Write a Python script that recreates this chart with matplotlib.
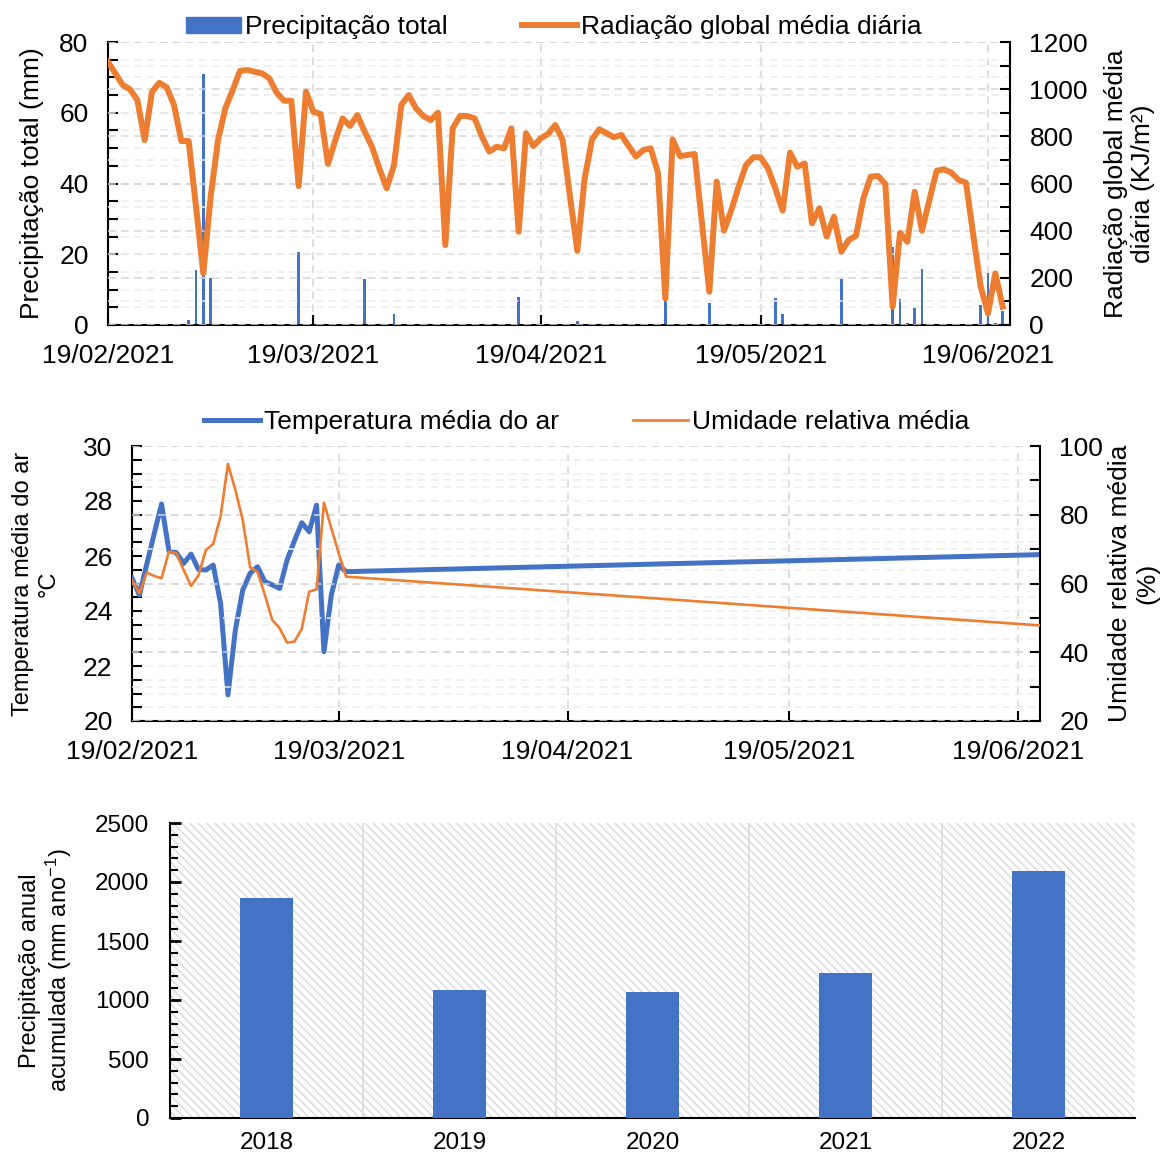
import matplotlib.pyplot as plt
import matplotlib.dates as mdates
import matplotlib.ticker as mticker
from matplotlib.patches import Patch, Rectangle
from matplotlib.lines import Line2D
import pandas as pd

plt.rcParams['font.family'] = 'Liberation Sans'
plt.rcParams['mathtext.fontset'] = 'custom'
plt.rcParams['mathtext.rm'] = 'Liberation Sans'
plt.rcParams['mathtext.it'] = 'Liberation Sans:italic'

BLUE = '#4472C4'
ORANGE = '#ED7D31'
GRID_DARK = '#d4d4d4'
GRID_LIGHT = '#ececec'
DASH = (0, (5, 3.5))

inicio = pd.Timestamp('2021-02-19')
fim = pd.Timestamp('2021-06-22')

# radiacao global media diaria (KJ/m2), um valor por dia a partir de 19/02/2021
radiacao = [1115, 1067, 1018, 999, 954, 784, 989, 1027, 1008, 933,
            780, 780, 502, 219, 544, 784, 919, 996, 1078, 1081,
            1074, 1067, 1046, 985, 951, 951, 589, 989, 904, 895,
            683, 784, 876, 844, 890, 820, 756, 664, 580, 678,
            933, 975, 919, 886, 869, 900, 339, 834, 886, 886,
            876, 798, 735, 756, 749, 834, 396, 813, 759, 791,
            810, 848, 784, 544, 315, 622, 787, 830, 813, 796,
            806, 759, 714, 742, 749, 646, 113, 787, 716, 721,
            725, 430, 141, 608, 400, 488, 587, 678, 711, 711,
            664, 579, 485, 731, 671, 685, 431, 495, 375, 459,
            311, 360, 378, 537, 629, 632, 598, 78, 391, 353,
            565, 400, 530, 654, 660, 646, 615, 603, 380, 163,
            49, 219, 78]

# dias com chuva (dias desde 19/02/2021) e precipitacao total (mm)
chuva_dia = [11, 12, 13, 14, 26, 35, 39, 56, 64, 76, 82, 91, 92, 100,
             107, 108, 109, 110, 111, 119, 120, 121, 122]
chuva_mm = [1.5, 15.5, 70.9, 13.4, 20.7, 13.0, 3.1, 8.0, 1.1, 8.0, 6.1, 7.7, 3.1, 12.9,
            22.1, 7.3, 0.5, 4.7, 15.7, 5.7, 14.8, 0.7, 4.0]

# temperatura e umidade medias (dias desde 19/02/2021)
clima_dia = list(range(30)) + [123]
temperatura = [25.2, 24.58, 25.7, 26.8, 27.89, 26.19, 26.12, 25.73, 26.07, 25.51,
               25.49, 25.67, 24.28, 20.95, 23.31, 24.76, 25.37, 25.61, 25.07, 24.95,
               24.82, 25.85, 26.55, 27.21, 26.88, 27.85, 22.52, 24.58, 25.67, 25.43,
               26.05]
umidade = [61.0, 57.1, 63.2, 62.2, 61.5, 69.3, 68.8, 63.9, 59.3, 62.3,
           69.7, 71.5, 79.6, 94.8, 87.2, 78.5, 64.7, 63.4, 56.7, 49.4,
           47.0, 42.8, 43.1, 46.8, 57.6, 58.3, 83.5, 76.1, 68.8, 62.0,
           47.8]

anos = ['2018', '2019', '2020', '2021', '2022']
precip_anual = [1865, 1085, 1070, 1228, 2095]

datas_rad = inicio + pd.to_timedelta(range(len(radiacao)), unit='D')
datas_chuva = inicio + pd.to_timedelta(chuva_dia, unit='D')
datas_clima = inicio + pd.to_timedelta(clima_dia, unit='D')

W, H = 1164, 1155
fig = plt.figure(figsize=(W / 100, H / 100), dpi=100)


def frame(l, t, r, b):
    return [l / W, 1 - b / H, (r - l) / W, (b - t) / H]


def date_axis(ax):
    ax.set_xlim(inicio, fim)
    ax.xaxis.set_major_locator(mdates.DayLocator(bymonthday=19))
    ax.xaxis.set_major_formatter(mdates.DateFormatter('%d/%m/%Y'))
    ax.tick_params(axis='x', direction='in', length=7, width=1.5, labelsize=19, pad=14)
    ax.grid(axis='x', which='major', color=GRID_DARK, linestyle=DASH, lw=1.1)


def style_spines(ax, visible):
    for side, sp in ax.spines.items():
        sp.set_visible(side in visible)
        sp.set_linewidth(1.5)
        sp.set_color('black')


# --- precipitacao e radiacao ---
ax1 = fig.add_axes(frame(108, 42, 1010, 325))
ax1.bar(datas_chuva, chuva_mm, width=0.4, color=BLUE, zorder=2)
ax1.set_ylim(0, 80)
ax1.yaxis.set_major_locator(mticker.MultipleLocator(20))
ax1.yaxis.set_minor_locator(mticker.MultipleLocator(5))
ax1.tick_params(axis='y', which='both', direction='in', length=7, width=1.5, labelsize=19, pad=14)
ax1.grid(axis='y', which='major', color=GRID_DARK, linestyle=DASH, lw=1.1)
ax1.grid(axis='y', which='minor', color=GRID_LIGHT, linestyle=DASH, lw=1.1)
date_axis(ax1)
ax1.set_ylabel('Precipitação total (mm)', fontsize=19)
ax1.yaxis.set_label_coords(-0.071, 0.5)
style_spines(ax1, ['left', 'bottom'])

ax2 = ax1.twinx()
ax2.plot(datas_rad, radiacao, color=ORANGE, lw=4.3, solid_joinstyle='round', zorder=3)
ax2.set_ylim(0, 1200)
ax2.yaxis.set_major_locator(mticker.MultipleLocator(200))
ax2.yaxis.set_minor_locator(mticker.MultipleLocator(100))
ax2.tick_params(axis='y', which='both', direction='in', length=7, width=1.5, labelsize=19, pad=14)
ax2.grid(axis='y', which='major', color=GRID_DARK, linestyle=DASH, lw=1.1)
ax2.grid(axis='y', which='minor', color=GRID_LIGHT, linestyle=DASH, lw=1.1)
ax2.set_ylabel('Radiação global média\ndiária (KJ/m²)', fontsize=19, linespacing=1.15)
ax2.yaxis.set_label_coords(1.104, 0.5)
style_spines(ax2, ['right'])

fig.legend([Patch(color=BLUE), Line2D([], [], color=ORANGE, lw=4.3)],
           ['Precipitação total', 'Radiação global média diária'],
           loc='center', bbox_to_anchor=(554 / W, 1 - 27 / H), ncol=2, frameon=False,
           fontsize=19, handlelength=2.1, handleheight=0.55, handletextpad=0.15,
           columnspacing=2.8)

# --- temperatura e umidade ---
ax3 = fig.add_axes(frame(132, 446, 1040, 721))
ax3.plot(datas_clima, temperatura, color=BLUE, lw=3.6, solid_joinstyle='round', zorder=3)
ax3.set_ylim(20, 30)
ax3.yaxis.set_major_locator(mticker.MultipleLocator(2))
ax3.yaxis.set_minor_locator(mticker.MultipleLocator(0.5))
ax3.tick_params(axis='y', which='both', direction='in', length=7, width=1.5, labelsize=19, pad=14)
ax3.grid(axis='y', which='both', color=GRID_LIGHT, linestyle=DASH, lw=1.1)
date_axis(ax3)
ax3.set_ylabel('Temperatura média do ar\n°C', fontsize=17, linespacing=1.2)
ax3.yaxis.set_label_coords(-0.08, 0.5)
style_spines(ax3, ['left', 'bottom'])

ax4 = ax3.twinx()
ax4.plot(datas_clima, umidade, color=ORANGE, lw=1.9, solid_joinstyle='round', zorder=3)
ax4.set_ylim(20, 100)
ax4.yaxis.set_major_locator(mticker.MultipleLocator(20))
ax4.yaxis.set_minor_locator(mticker.MultipleLocator(10))
ax4.tick_params(axis='y', which='both', direction='in', length=7, width=1.5, labelsize=19, pad=14)
ax4.grid(axis='y', which='major', color=GRID_DARK, linestyle=DASH, lw=1.1)
ax4.grid(axis='y', which='minor', color=GRID_LIGHT, linestyle=DASH, lw=1.1)
ax4.set_ylabel('Umidade relativa média\n(%)', fontsize=19, linespacing=1.15)
ax4.yaxis.set_label_coords(1.075, 0.5)
style_spines(ax4, ['right'])

fig.legend([Line2D([], [], color=BLUE, lw=3.6), Line2D([], [], color=ORANGE, lw=1.9)],
           ['Temperatura média do ar', 'Umidade relativa média'],
           loc='center', bbox_to_anchor=(587 / W, 1 - 422 / H), ncol=2, frameon=False,
           fontsize=19, handlelength=2.1, handletextpad=0.15, columnspacing=2.8)

# --- precipitacao anual ---
ax5 = fig.add_axes(frame(170, 823, 1135, 1118))
ax5.add_patch(Rectangle((0, 0), 1, 1, transform=ax5.transAxes, facecolor='white',
                        edgecolor='#d9d9d9', lw=0, hatch='\\\\\\\\', zorder=0))
x = range(len(anos))
ax5.bar(x, precip_anual, width=0.27, color=BLUE, zorder=3)
ax5.set_xlim(-0.5, len(anos) - 0.5)
ax5.set_ylim(0, 2500)
ax5.set_xticks(list(x))
ax5.set_xticklabels(anos)
ax5.set_xticks([i + 0.5 for i in range(len(anos) - 1)], minor=True)
ax5.grid(axis='x', which='minor', color='#d9d9d9', lw=1.1, zorder=1)
ax5.tick_params(axis='x', which='both', length=0, labelsize=17.5, pad=10)
ax5.yaxis.set_major_locator(mticker.MultipleLocator(500))
ax5.yaxis.set_minor_locator(mticker.MultipleLocator(100))
ax5.tick_params(axis='y', which='major', direction='in', length=8, width=2, labelsize=17.5, pad=15)
ax5.tick_params(axis='y', which='minor', direction='in', length=6, width=1.5)
ax5.set_ylabel('Precipitação anual\nacumulada (mm ano$^{-1}$)', fontsize=17, linespacing=1.1)
ax5.yaxis.set_label_coords(-0.1, 0.5)
style_spines(ax5, ['left', 'bottom'])
ax5.set_axisbelow(True)

fig.savefig('out.png', dpi=100)
